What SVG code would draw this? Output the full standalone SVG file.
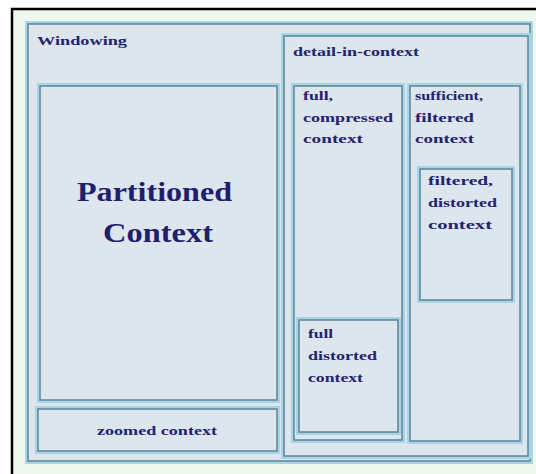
<svg xmlns="http://www.w3.org/2000/svg" width="536" height="474" viewBox="0 0 536 474">
<style>
.halo{fill:none;stroke:#aad3e6;stroke-width:4}
.box{fill:#dde5ed;stroke:#5f8aa0;stroke-width:1.6}
.t{font-family:"Liberation Serif","Times New Roman",serif;font-weight:bold;fill:#23236f;font-size:12px}
.big{font-family:"Liberation Serif","Times New Roman",serif;font-weight:bold;fill:#1f1f6e;font-size:28px}
</style>
<rect x="0" y="0" width="536" height="474" fill="#ffffff"/>
<rect x="12" y="9" width="524" height="465" fill="#eef8ee"/>
<line x1="12" y1="8" x2="12" y2="474" stroke="#000" stroke-width="2.5"/>
<line x1="11" y1="9" x2="536" y2="9" stroke="#000" stroke-width="2.5"/>

<g id="windowing">
<rect class="halo" x="27" y="23" width="504" height="439"/>
<rect class="box" x="28" y="24" width="502" height="437"/>
<text class="t" x="37" y="45" textLength="90" lengthAdjust="spacingAndGlyphs">Windowing</text>
</g>

<g id="partitioned">
<rect class="halo" x="39" y="85" width="239" height="316"/>
<rect class="box" x="40" y="86" width="237" height="314"/>
<text class="big" x="77" y="201" textLength="155" lengthAdjust="spacingAndGlyphs">Partitioned</text>
<text class="big" x="103" y="242" textLength="110" lengthAdjust="spacingAndGlyphs">Context</text>
</g>

<g id="zoomed">
<rect class="halo" x="37" y="408" width="241" height="44"/>
<rect class="box" x="38" y="409" width="239" height="42"/>
<text class="t" x="97" y="435" textLength="120" lengthAdjust="spacingAndGlyphs">zoomed context</text>
</g>

<g id="detail">
<rect class="halo" x="283" y="35" width="246" height="422"/>
<rect class="box" x="284" y="36" width="244" height="420"/>
<text class="t" x="293" y="56" textLength="126" lengthAdjust="spacingAndGlyphs">detail-in-context</text>
</g>

<g id="full-compressed">
<rect class="halo" x="293" y="85" width="110" height="356"/>
<rect class="box" x="294" y="86" width="108" height="354"/>
<text class="t" x="303" y="100" textLength="30" lengthAdjust="spacingAndGlyphs">full,</text>
<text class="t" x="303" y="122" textLength="90" lengthAdjust="spacingAndGlyphs">compressed</text>
<text class="t" x="303" y="143" textLength="60" lengthAdjust="spacingAndGlyphs">context</text>
</g>

<g id="sufficient">
<rect class="halo" x="409" y="85" width="112" height="357"/>
<rect class="box" x="410" y="86" width="110" height="355"/>
<text class="t" x="415" y="100" textLength="68" lengthAdjust="spacingAndGlyphs">sufficient,</text>
<text class="t" x="415" y="122" textLength="59" lengthAdjust="spacingAndGlyphs">filtered</text>
<text class="t" x="415" y="143" textLength="59" lengthAdjust="spacingAndGlyphs">context</text>
</g>

<g id="filtered-distorted">
<rect class="halo" x="419" y="168" width="94" height="133"/>
<rect class="box" x="420" y="169" width="92" height="131"/>
<text class="t" x="428" y="185" textLength="65" lengthAdjust="spacingAndGlyphs">filtered,</text>
<text class="t" x="428" y="207" textLength="69" lengthAdjust="spacingAndGlyphs">distorted</text>
<text class="t" x="428" y="229" textLength="64" lengthAdjust="spacingAndGlyphs">context</text>
</g>

<g id="full-distorted">
<rect class="halo" x="298" y="319" width="101" height="114"/>
<rect class="box" x="299" y="320" width="99" height="112"/>
<text class="t" x="308" y="338" textLength="25" lengthAdjust="spacingAndGlyphs">full</text>
<text class="t" x="308" y="360" textLength="69" lengthAdjust="spacingAndGlyphs">distorted</text>
<text class="t" x="308" y="382" textLength="55" lengthAdjust="spacingAndGlyphs">context</text>
</g>

<g id="connectors"></g>
</svg>
